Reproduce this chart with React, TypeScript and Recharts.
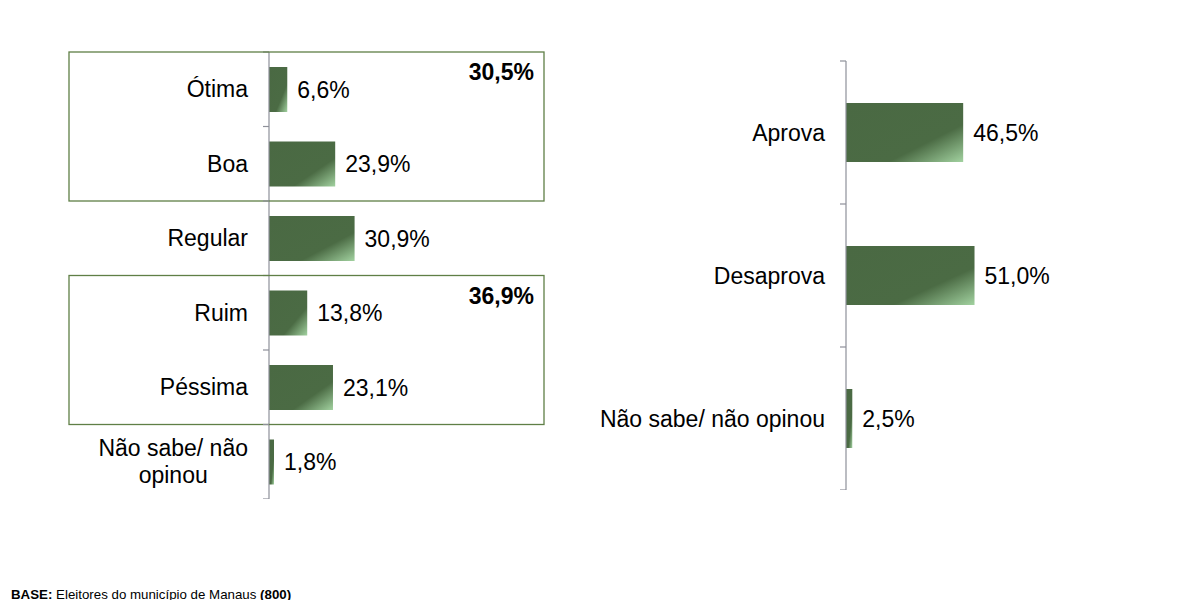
import React from "react";
import { BarChart, Bar, XAxis, YAxis, LabelList } from "recharts";

// ---- data ----
const leftCategories = ["Ótima", "Boa", "Regular", "Ruim", "Péssima", "Não sabe/ não\nopinou"];
const leftValues = [6.6, 23.9, 30.9, 13.8, 23.1, 1.8];
const groupLabels = ["30,5%", "36,9%"];
const groupStarts = ["Ótima", "Ruim"];
const groupSizes = [2, 2];

const rightCategories = ["Aprova", "Desaprova", "Não sabe/ não opinou"];
const rightValues = [46.5, 51.0, 2.5];

const leftData = leftCategories.map((name, i) => ({ name, value: leftValues[i] }));
const rightData = rightCategories.map((name, i) => ({ name, value: rightValues[i] }));

// ---- layout ----
const FONT = "Arial, 'Liberation Sans', sans-serif";
const FS = 23;
const AXIS_COLOR = "#8e9099";
const BOX_COLOR = "#5f7f46";

const L_AXIS_W = 269;
const L_TOP = 52;
const L_H = 499;
const L_W = 546;
const L_BAND = (L_H - L_TOP) / leftCategories.length;
const BOX_LEFT = 69;
const BOX_RIGHT = 544;

const R_LEFT = 560;
const R_AXIS_W = 286;
const R_TOP = 61;
const R_H = 490;
const R_W = 538;
const R_BAND = (R_H - R_TOP) / rightCategories.length;

const fmt = (v: any) => `${Number(v).toFixed(1).replace(".", ",")}%`;

let ctx: CanvasRenderingContext2D | null = null;
const measure = (s: string) => {
  if (!ctx) {
    const c = document.createElement("canvas");
    ctx = c.getContext("2d");
  }
  if (!ctx) return s.length * FS * 0.5;
  ctx.font = `${FS}px Arial, 'Liberation Sans', sans-serif`;
  return ctx.measureText(s).width;
};

const CatLabel = ({ label, right, y }: { label: string; right: number; y: number }) => {
  const lines = label.split("\n");
  if (lines.length === 1) {
    return (
      <text x={right} y={y} textAnchor="end" dominantBaseline="central" fontSize={FS} fill="#000" fontFamily={FONT}>
        {label}
      </text>
    );
  }
  const maxW = Math.max(...lines.map(measure));
  const cx = right - maxW / 2;
  const lh = 27;
  const y0 = y - ((lines.length - 1) * lh) / 2;
  return (
    <g>
      {lines.map((ln, i) => (
        <text key={i} x={cx} y={y0 + i * lh} textAnchor="middle" dominantBaseline="central" fontSize={FS} fill="#000" fontFamily={FONT}>
          {ln}
        </text>
      ))}
    </g>
  );
};

const makeTick = (axisX: number, fallbackHalf: number, withGroups: boolean) => (props: any) => {
  const { y, payload, index } = props;
  const half = payload?.offset || fallbackHalf;
  const gi = withGroups ? groupStarts.indexOf(payload.value) : -1;
  return (
    <g>
      {index === 0 && (
        <line x1={axisX - 6} x2={axisX} y1={y - half} y2={y - half} stroke={AXIS_COLOR} strokeWidth={1.2} />
      )}
      <line x1={axisX - 6} x2={axisX} y1={y + half} y2={y + half} stroke={AXIS_COLOR} strokeWidth={1.2} />
      <CatLabel label={payload.value} right={axisX - 21} y={y} />
      {gi >= 0 && (
        <g>
          <rect
            x={BOX_LEFT}
            y={y - half}
            width={BOX_RIGHT - BOX_LEFT}
            height={groupSizes[gi] * half * 2}
            fill="none"
            stroke={BOX_COLOR}
            strokeWidth={1.3}
          />
          <text
            x={BOX_RIGHT - 10}
            y={y - half + 20}
            textAnchor="end"
            dominantBaseline="central"
            fontSize={FS}
            fontWeight="bold"
            fill="#000"
            fontFamily={FONT}
          >
            {groupLabels[gi]}
          </text>
        </g>
      )}
    </g>
  );
};

const Grad = ({ id }: { id: string }) => (
  <defs>
    <linearGradient id={id} x1="0" y1="0" x2="1" y2="1">
      <stop offset="0" stopColor="#4a6943" />
      <stop offset="0.68" stopColor="#4b6b44" />
      <stop offset="1" stopColor="#a2d2a0" />
    </linearGradient>
  </defs>
);

export default function App() {
  return (
    <div style={{ position: "absolute", left: 0, top: 0, width: 1183, height: 600, background: "#fff", fontFamily: FONT }}>
      <div style={{ position: "absolute", left: 0, top: 0 }}>
        <BarChart
          width={L_W}
          height={L_H}
          data={leftData}
          layout="vertical"
          margin={{ top: L_TOP, right: 0, bottom: 0, left: 0 }}
        >
          <Grad id="gradL" />
          <XAxis type="number" domain={[0, 100]} hide />
          <YAxis
            type="category"
            dataKey="name"
            width={L_AXIS_W}
            axisLine={{ stroke: AXIS_COLOR, strokeWidth: 1.2 }}
            tickLine={false}
            interval={0}
            tick={makeTick(L_AXIS_W, L_BAND / 2, true)}
          />
          <Bar dataKey="value" fill="url(#gradL)" barSize={45} isAnimationActive={false}>
            <LabelList dataKey="value" position="right" offset={10} formatter={fmt} fill="#000" fontSize={FS} fontFamily={FONT} />
          </Bar>
        </BarChart>
      </div>
      <div style={{ position: "absolute", left: R_LEFT, top: 0 }}>
        <BarChart
          width={R_W}
          height={R_H}
          data={rightData}
          layout="vertical"
          margin={{ top: R_TOP, right: 0, bottom: 0, left: 0 }}
        >
          <Grad id="gradR" />
          <XAxis type="number" domain={[0, 100]} hide />
          <YAxis
            type="category"
            dataKey="name"
            width={R_AXIS_W}
            axisLine={{ stroke: AXIS_COLOR, strokeWidth: 1.2 }}
            tickLine={false}
            interval={0}
            tick={makeTick(R_AXIS_W, R_BAND / 2, false)}
          />
          <Bar dataKey="value" fill="url(#gradR)" barSize={59} isAnimationActive={false}>
            <LabelList dataKey="value" position="right" offset={10} formatter={fmt} fill="#000" fontSize={FS} fontFamily={FONT} />
          </Bar>
        </BarChart>
      </div>
      <svg width={1183} height={600} style={{ position: "absolute", left: 0, top: 0, pointerEvents: "none" }}>
        <text x={11} y={598.5} fontSize={13.3} fontFamily={FONT} fill="#000">
          <tspan fontWeight="bold">BASE:</tspan>
          <tspan> Eleitores do município de Manaus </tspan>
          <tspan fontWeight="bold">(800)</tspan>
        </text>
      </svg>
    </div>
  );
}
